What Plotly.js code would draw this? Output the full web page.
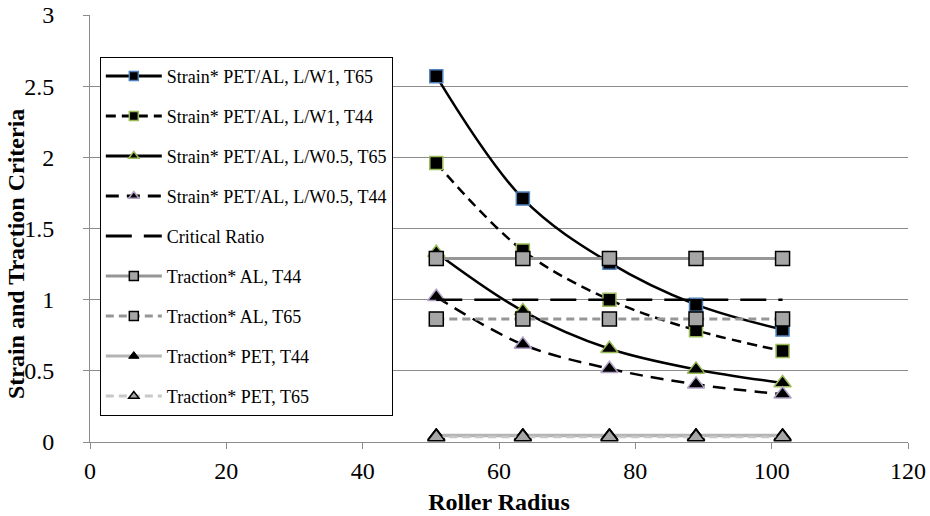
<!DOCTYPE html>
<html><head><meta charset="utf-8">
<script src="https://cdn.plot.ly/plotly-3.0.1.min.js"></script>
<style>html,body{margin:0;padding:0;background:#fff}#chart{width:930px;height:516px}</style>
</head><body><div id="chart"></div>
<script>
const radius = [50.8, 63.5, 76.2, 88.9, 101.6];
const seriesNames = [
  "Strain* PET/AL, L/W1, T65",
  "Strain* PET/AL, L/W1, T44",
  "Strain* PET/AL, L/W0.5, T65",
  "Strain* PET/AL, L/W0.5, T44",
  "Critical Ratio",
  "Traction* AL, T44",
  "Traction* AL, T65",
  "Traction* PET, T44",
  "Traction* PET, T65"
];
const strainLW1T65 = [2.57, 1.71, 1.26, 0.965, 0.79];
const strainLW1T44 = [1.96, 1.345, 1.0, 0.785, 0.64];
const strainLW05T65 = [1.33, 0.92, 0.655, 0.51, 0.415];
const strainLW05T44 = [1.02, 0.685, 0.515, 0.405, 0.335];
const criticalRatio = [1, 1, 1, 1, 1];
const tractionALT44 = [1.29, 1.29, 1.29, 1.29, 1.29];
const tractionALT65 = [0.865, 0.865, 0.865, 0.865, 0.865];
const tractionPETT44 = [0.045, 0.045, 0.045, 0.045, 0.045];
const tractionPETT65 = [0.035, 0.035, 0.035, 0.035, 0.035];
const xTitle = 'Roller Radius';
const yTitle = 'Strain and Traction Criteria';

const values = [strainLW1T65, strainLW1T44, strainLW05T65, strainLW05T44, criticalRatio,
  tractionALT44, tractionALT65, tractionPETT44, tractionPETT65];

const styles = [
  {line:{color:'#000', width:2.5, dash:'solid', shape:'spline'}, marker:{symbol:'square', size:13, color:'#000', line:{color:'#4f81bd', width:1.5}}, mode:'lines+markers'},
  {line:{color:'#000', width:2.5, dash:'10px,6px', shape:'spline'}, marker:{symbol:'square', size:13, color:'#000', line:{color:'#9bbb59', width:1.5}}, mode:'lines+markers'},
  {line:{color:'#000', width:2.5, dash:'solid', shape:'spline'}, marker:{symbol:'triangle-up', size:15, color:'#000', line:{color:'#9bbb59', width:1.5}}, mode:'lines+markers'},
  {line:{color:'#000', width:2.5, dash:'13px,8px', shape:'spline'}, marker:{symbol:'triangle-up', size:15, color:'#000', line:{color:'#b3a2c7', width:1.5}}, mode:'lines+markers'},
  {line:{color:'#000', width:2.5, dash:'26px,12px'}, mode:'lines'},
  {line:{color:'#969696', width:3, dash:'solid'}, marker:{symbol:'square', size:14, color:'#a6a6a6', line:{color:'#000', width:1.5}}, mode:'lines+markers'},
  {line:{color:'#969696', width:3, dash:'8px,5px'}, marker:{symbol:'square', size:14, color:'#a6a6a6', line:{color:'#000', width:1.5}}, mode:'lines+markers'},
  {line:{color:'#b4b4b4', width:3.5, dash:'solid'}, marker:{symbol:'triangle-up', size:15, color:'#000', line:{color:'#000', width:1}}, mode:'lines+markers'},
  {line:{color:'#c8c8c8', width:2.5, dash:'8px,5px'}, marker:{symbol:'triangle-up', size:15, color:'#a6a6a6', line:{color:'#000', width:1.5}}, mode:'lines+markers'}
];

// data traces (no legend entries)
const traces = values.map((v, i) => Object.assign({
  x: radius, y: v, name: seriesNames[i], type: 'scatter', showlegend: false
}, styles[i]));

// legend-only entries with smaller legend markers
const legendTraces = seriesNames.map((n, i) => {
  const s = JSON.parse(JSON.stringify(styles[i]));
  if (s.marker) s.marker.size = 9;
  if (s.line) { delete s.line.shape; s.line.width = 3; }
  return Object.assign({x: [null], y: [null], name: n, type: 'scatter', showlegend: true, legendgroup: 'g' + i}, s);
});

const SERIF = '"Liberation Serif", "Times New Roman", Times, serif';

const layout = {
  width: 930, height: 516,
  margin: {l: 90, r: 22, t: 15, b: 74},
  paper_bgcolor: '#fff', plot_bgcolor: '#fff',
  font: {family: SERIF, color: '#000'},
  showlegend: true,
  legend: {
    x: 0.012, y: 0.902, xanchor: 'left', yanchor: 'top',
    bgcolor: '#fff', bordercolor: '#000', borderwidth: 1,
    font: {family: SERIF, size: 18, color: '#000'},
    tracegroupgap: 13.6, itemwidth: 56, itemsizing: 'trace'
  },
  xaxis: {
    range: [0, 120], dtick: 20, tick0: 0,
    showgrid: false, zeroline: false,
    showline: true, linecolor: '#8c8c8c', linewidth: 1,
    ticks: 'outside', ticklen: 6, tickcolor: '#8c8c8c',
    ticklabelstandoff: 1,
    tickfont: {size: 24, family: SERIF},
    title: {text: '<b>' + xTitle + '</b>', font: {size: 24, family: SERIF}, standoff: 10}
  },
  yaxis: {
    range: [0, 3], dtick: 0.5, tick0: 0,
    showgrid: true, gridcolor: '#8c8c8c', gridwidth: 1,
    zeroline: false,
    showline: true, linecolor: '#8c8c8c', linewidth: 1,
    ticks: 'outside', ticklen: 6, tickcolor: '#8c8c8c',
    ticklabelstandoff: 24,
    tickfont: {size: 24, family: SERIF}
  },
  annotations: [{
    text: '<b>' + yTitle + '</b>', textangle: -90,
    xref: 'paper', yref: 'paper', x: -0.0905, y: 0.44,
    xanchor: 'center', yanchor: 'middle', showarrow: false,
    font: {size: 24, family: SERIF, color: '#000'}
  }]
};

Plotly.newPlot('chart', traces.concat(legendTraces), layout, {displayModeBar: false, staticPlot: true});
</script></body></html>
